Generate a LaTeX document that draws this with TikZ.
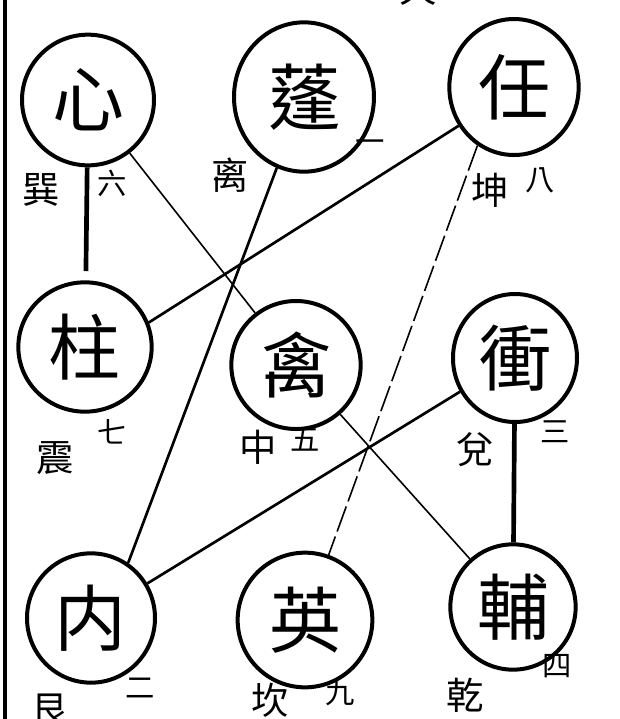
\documentclass[tikz,border=0pt]{standalone}
\usepackage{fontspec}
\newfontfamily\cjk{Noto Sans CJK TC}
\usetikzlibrary{shapes.geometric}

\begin{document}
\begin{tikzpicture}[
    x = 0.75pt,
    y = -0.75pt,
    star/.style = {
      draw,
      ellipse,
      line width = 3pt,
      inner sep = 0pt,
      minimum width = 97pt,
      minimum height = 97pt,
      font = \cjk\fontsize{54}{54}\selectfont
    },
    gua/.style = {
      inner sep = 0pt,
      font = \cjk\fontsize{28}{28}\selectfont
    },
    num/.style = {
      inner sep = 0pt,
      font = \cjk\fontsize{22}{22}\selectfont
    },
    heavy/.style = {line width = 3.5pt},
    mid/.style = {line width = 2pt},
    fine/.style = {line width = 1.2pt}
  ]
  \useasboundingbox (0,0) rectangle (620,719);
  % frame line on the left
  \draw[line width = 3pt] (5,0) -- (5,719);
  \node[gua] (tian) at (418,-10) {天};

  % the nine stars
  \node[star, minimum width = 99pt, minimum height = 98pt] (xin) at (88,100) {心};
  \node[star, minimum width = 105pt, minimum height = 112pt] (peng) at (304,97) {蓬};
  \node[star, minimum width = 97pt, minimum height = 102pt] (ren) at (514,87) {任};
  \node[star, minimum width = 100pt, minimum height = 97pt] (zhu) at (85,347) {柱};
  \node[star, minimum width = 97pt, minimum height = 96pt] (qin) at (296,365) {禽};
  \node[star, minimum width = 93pt, minimum height = 96pt] (chong) at (515,358) {衝};
  \node[star, minimum width = 96pt, minimum height = 97pt] (rui) at (91,618) {内};
  \node[star, minimum width = 101pt, minimum height = 101pt] (ying) at (305,620) {英};
  \node[star, minimum width = 94pt, minimum height = 94pt] (fu) at (513,607) {輔};

  % trigrams and numbers
  \node[gua] (xun) at (41,190) {巽};
  \node[num] (liu) at (112,183) {六};
  \node[gua] (li) at (230,175) {离};
  \node[num] (yi) at (370,146) {一};
  \node[gua] (kun) at (490,190) {坤};
  \node[num] (ba) at (540,180) {八};
  \node[gua] (zhen) at (55,458) {震};
  \node[num] (qi) at (112,432) {七};
  \node[gua] (zhong) at (258,447) {中};
  \node[num] (wu) at (305,440) {五};
  \node[gua] (dui) at (475,450) {兌};
  \node[num] (san) at (555,432) {三};
  \node[gua] (gen) at (50,710) {艮};
  \node[num] (er) at (140,688) {二};
  \node[gua] (kan) at (270,700) {坎};
  \node[num] (jiu) at (340,693) {九};
  \node[gua] (qian) at (465,695) {乾};
  \node[num] (si) at (557,666) {四};

  % flight lines
  \draw[heavy, shorten > = 7pt] (xin) -- (zhu);
  \draw[fine] (xin) -- (qin);
  \draw[mid] (peng.249) -- (rui.56);
  \draw[mid] (ren.215) -- (zhu.21);
  \draw[fine, dash pattern = on 20pt off 4pt] (ren.238) -- (ying);
  \draw[mid] (chong) -- (rui);
  \draw[heavy] (chong) -- (fu);
  \draw[fine] (qin) -- (fu);
\end{tikzpicture}
\end{document}
